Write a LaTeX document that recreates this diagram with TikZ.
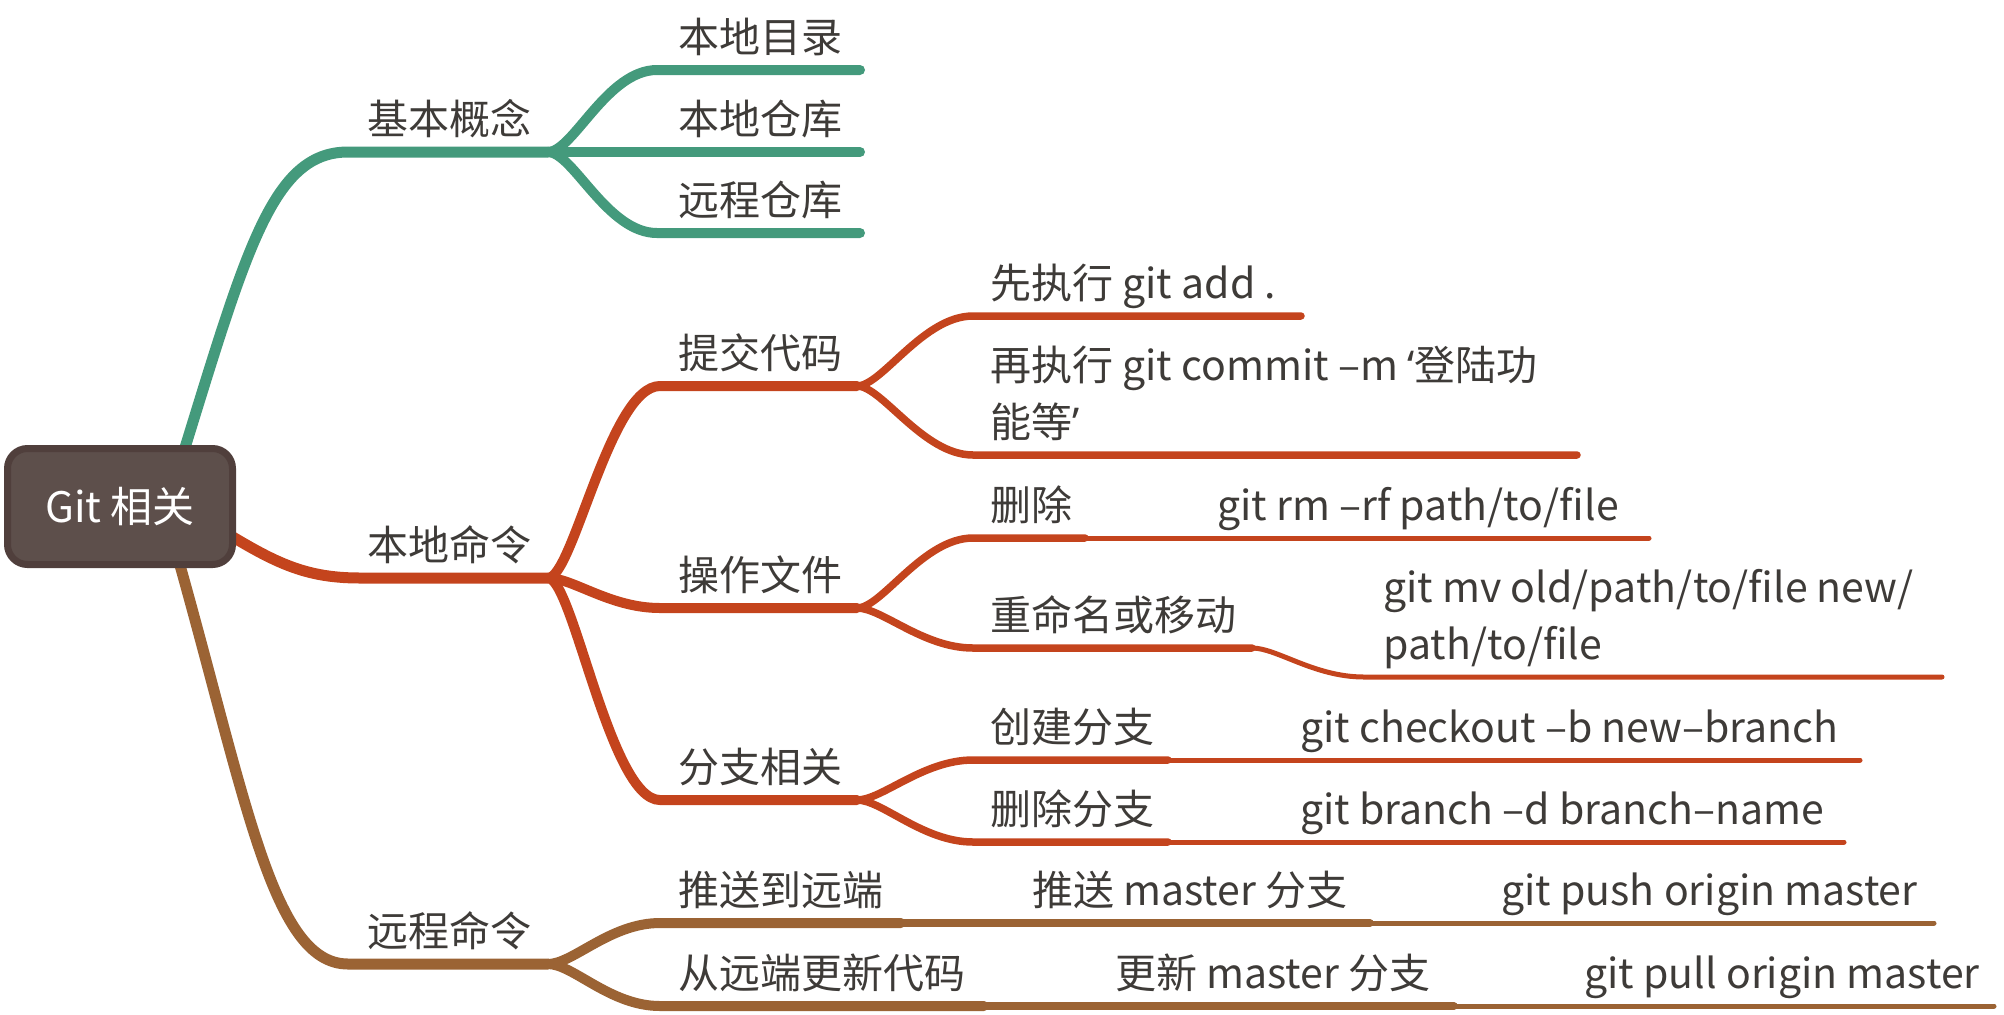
\documentclass[tikz,border=0pt]{standalone}
\usepackage{fontspec}
\setmainfont{Noto Sans CJK SC}
\newfontfamily\qf{Noto Sans}
\definecolor{cg}{HTML}{449A7C}
\definecolor{cr}{HTML}{C4441D}
\definecolor{cb}{HTML}{9B6334}
\definecolor{rootf}{HTML}{5D4F4B}
\definecolor{rootd}{HTML}{503F3C}
\definecolor{tc}{HTML}{3E3B38}
\begin{document}
\begin{tikzpicture}[x=0.5pt,y=-0.5pt,line cap=round,
  lone/.style={line width=5.5pt},
  ltwo/.style={line width=5pt},
  lthree/.style={line width=3.75pt},
  lfour/.style={line width=2.5pt},
  txt/.style={anchor=base west,inner sep=0pt,text=tc,align=left,
    font=\fontsize{20.5pt}{28.5pt}\selectfont}]
\useasboundingbox (0,0) rectangle (2004,1014);
% ---------- coordinates ----------
\coordinate (rg) at (175,480);
\coordinate (rr) at (205,520);
\coordinate (rb) at (170,530);
\coordinate (g0) at (348,152);  \coordinate (g1) at (548,152);
\coordinate (r0) at (360,578);  \coordinate (r1) at (548,578);
\coordinate (b0) at (348,964);  \coordinate (b1) at (548,964);
% green children
\coordinate (ga0) at (657,70);  \coordinate (ga1) at (860,70);
\coordinate (gb1) at (860,152);
\coordinate (gc0) at (657,233); \coordinate (gc1) at (860,233);
% red children
\coordinate (ra0) at (660,386); \coordinate (ra1) at (857,386);
\coordinate (rb0) at (660,608); \coordinate (rb1) at (857,608);
\coordinate (rc0) at (660,800); \coordinate (rc1) at (857,800);
% brown children
\coordinate (ba0) at (660,923); \coordinate (ba1) at (901,923);
\coordinate (bb0) at (660,1006); \coordinate (bb1) at (984,1006);
% level 3
\coordinate (p10) at (973,316); \coordinate (p11) at (1301,316);
\coordinate (p20) at (973,455); \coordinate (p21) at (1577,455);
\coordinate (o10) at (973,538); \coordinate (o11) at (1085,538);
\coordinate (o20) at (973,648); \coordinate (o21) at (1252,648);
\coordinate (f10) at (973,760); \coordinate (f11) at (1168,760);
\coordinate (f20) at (973,842); \coordinate (f21) at (1168,842);
\coordinate (ba2) at (1370,923);
\coordinate (bb2) at (1454,1006);
% level 4
\coordinate (o12) at (1649,538);
\coordinate (o22) at (1364,677); \coordinate (o23) at (1942,677);
\coordinate (f12) at (1860,760);
\coordinate (f22) at (1844,842);
\coordinate (ba3) at (1934,923);
\coordinate (bb3) at (1994,1006);
% ---------- connectors ----------
\draw[lone,cg] (rg) .. controls (245,255) and (270,152) .. (g0) -- (g1);
\draw[lone,cr] (rr) .. controls (270,560) and (300,578) .. (r0) -- (r1);
\draw[lone,cb] (rb) .. controls (245,790) and (270,964) .. (b0) -- (b1);
% green level 2
\draw[ltwo,cg] (g1) .. controls +(25,0) and +(-50,0) .. (ga0) -- (ga1);
\draw[ltwo,cg] (g1) -- (gb1);
\draw[ltwo,cg] (g1) .. controls +(25,0) and +(-50,0) .. (gc0) -- (gc1);
% red level 2
\draw[ltwo,cr] (r1) .. controls +(25,0) and +(-50,0) .. (ra0) -- (ra1);
\draw[ltwo,cr] (r1) .. controls +(25,0) and +(-50,0) .. (rb0) -- (rb1);
\draw[ltwo,cr] (r1) .. controls +(25,0) and +(-50,0) .. (rc0) -- (rc1);
% brown level 2
\draw[ltwo,cb] (b1) .. controls +(25,0) and +(-50,0) .. (ba0) -- (ba1);
\draw[ltwo,cb] (b1) .. controls +(25,0) and +(-50,0) .. (bb0) -- (bb1);
% red level 3
\draw[lthree,cr] (ra1) .. controls +(25,0) and +(-50,0) .. (p10) -- (p11);
\draw[lthree,cr] (ra1) .. controls +(25,0) and +(-50,0) .. (p20) -- (p21);
\draw[lthree,cr] (rb1) .. controls +(25,0) and +(-50,0) .. (o10) -- (o11);
\draw[lthree,cr] (rb1) .. controls +(25,0) and +(-50,0) .. (o20) -- (o21);
\draw[lthree,cr] (rc1) .. controls +(25,0) and +(-50,0) .. (f10) -- (f11);
\draw[lthree,cr] (rc1) .. controls +(25,0) and +(-50,0) .. (f20) -- (f21);
% brown level 3
\draw[lthree,cb] (ba1) -- (ba2);
\draw[lthree,cb] (bb1) -- (bb2);
% level 4
\draw[lfour,cr] (o11) -- (o12);
\draw[lfour,cr] (o21) .. controls +(25,0) and +(-50,0) .. (o22) -- (o23);
\draw[lfour,cr] (f11) -- (f12);
\draw[lfour,cr] (f21) -- (f22);
\draw[lfour,cb] (ba2) -- (ba3);
\draw[lfour,cb] (bb2) -- (bb3);
% ---------- root ----------
\node[draw=rootd,fill=rootf,line width=3.5pt,rounded corners=10pt,
  minimum width=112.5pt,minimum height=58pt,inner sep=0pt,
  text=white,font=\fontsize{21pt}{25pt}\selectfont] (root) at (120,506.5) {Git 相关};
% ---------- labels ----------
\node[txt] (t1) at (367,134) {基本概念};
\node[txt] (t2) at (367,560) {本地命令};
\node[txt] (t3) at (367,946) {远程命令};
\node[txt] (t11) at (678,52) {本地目录};
\node[txt] (t12) at (678,134) {本地仓库};
\node[txt] (t13) at (678,215) {远程仓库};
\node[txt] (t21) at (678,368) {提交代码};
\node[txt] (t22) at (678,590) {操作文件};
\node[txt] (t23) at (678,782) {分支相关};
\node[txt] (t31) at (678,905) {推送到远端};
\node[txt] (t32) at (678,988) {从远端更新代码};
\node[txt] (t211) at (990,298) {先执行 git add .};
\node[txt] (t212) at (990,437) {再执行 git commit –m {\qf‘}登陆功\\能等{\qf’}};
\node[txt] (t221) at (990,520) {删除};
\node[txt] (t222) at (990,630) {重命名或移动};
\node[txt] (t231) at (990,742) {创建分支};
\node[txt] (t232) at (990,824) {删除分支};
\node[txt] (t311) at (1032,905) {推送 master 分支};
\node[txt] (t321) at (1115,988) {更新 master 分支};
\node[txt] (t2211) at (1217,520) {git rm –rf path/to/file};
\node[txt] (t2221) at (1383,659) {git mv old/path/to/file new/\\path/to/file};
\node[txt] (t2311) at (1300,742) {git checkout –b new–branch};
\node[txt] (t2321) at (1300,824) {git branch –d branch–name};
\node[txt] (t3111) at (1501,905) {git push origin master};
\node[txt] (t3211) at (1584,988) {git pull origin master};
\end{tikzpicture}
\end{document}
